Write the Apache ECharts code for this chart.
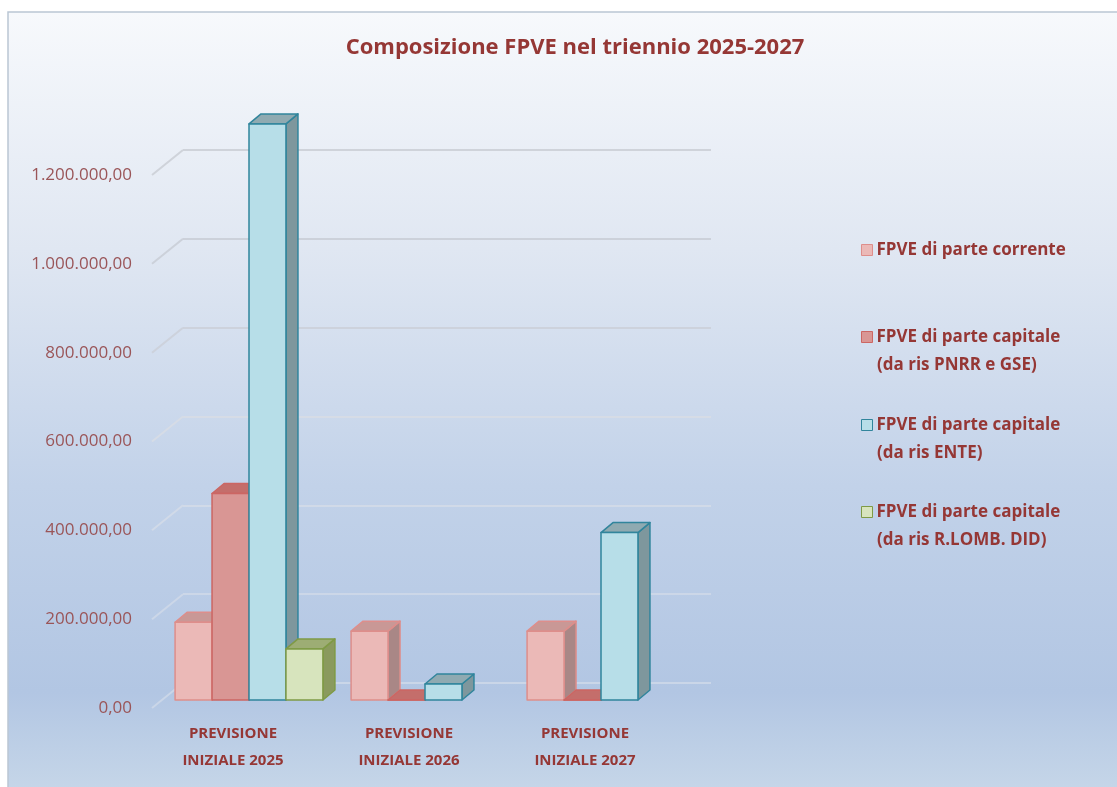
<!DOCTYPE html>
<html>
<head>
    <meta charset="utf-8">
    <title>Composizione FPVE</title>
    <script src="https://cdn.jsdelivr.net/npm/echarts@6/dist/echarts.min.js"></script>
    <style>
        html, body { margin: 0; padding: 0; background: #fff; }
        #chart { width: 1117px; height: 787px; }
    </style>
</head>
<body>
<div id="chart"></div>
<script>
// dati
var categories = ['PREVISIONE\nINIZIALE 2025', 'PREVISIONE\nINIZIALE 2026', 'PREVISIONE\nINIZIALE 2027'];
var seriesNames = [
    'FPVE di parte corrente',
    'FPVE di parte capitale\n(da ris PNRR e GSE)',
    'FPVE di parte capitale\n(da ris ENTE)',
    'FPVE di parte capitale\n(da ris R.LOMB. DID)'
];
var corrente = [175000, 155000, 155000];
var pnrr = [465000, 0, 0];
var ente = [1297000, 36000, 377000];
var rlomb = [115000, null, null];
var yTicks = [0, 200000, 400000, 600000, 800000, 1000000, 1200000];

// colori: fronte, sopra, lato, bordo
var palette = [
    { front: '#EBB9B7', top: '#C99896', side: '#A98786', border: '#DE8E8B' },
    { front: '#D99694', top: '#C46E6B', side: '#B0706E', border: '#CC6663' },
    { front: '#B7DEE8', top: '#8FAAB1', side: '#7E979D', border: '#31859C' },
    { front: '#D7E4BD', top: '#9DAD74', side: '#8A9A5E', border: '#7F9A45' }
];
// griglia dal basso verso l'alto
var gridColors = ['#CAD6E8', '#CCD7E8', '#D1DAE8', '#D6DCE6', '#CDD2DC', '#CCD1DA', '#CFD3DA'];
var legendY = [250, 337, 425, 512];
var textColor = '#953735';

var chart = echarts.init(document.getElementById('chart'));

function formatIt(v) {
    var s = String(Math.round(v)).replace(/\B(?=(\d{3})+(?!\d))/g, '.');
    return s + ',00';
}

var DX = 12, DY = -10;     // profondità barre
var OFFX = 9, OFFY = -8;   // piano delle barre rispetto al piano frontale

function makeBarSeries(idx, values) {
    return {
        name: seriesNames[idx],
        type: 'custom',
        xAxisIndex: 0,
        yAxisIndex: 0,
        clip: false,
        itemStyle: { color: palette[idx].front, borderColor: palette[idx].border },
        data: values.map(function (v, i) { return [i, v]; }),
        renderItem: function (params, api) {
            var v = api.value(1);
            if (v === null || isNaN(v)) return;
            var c = palette[idx];
            var base = api.coord([api.value(0), 0]);
            var topP = api.coord([api.value(0), v]);
            var band = api.size([1, 0])[0];
            var w = band * 0.84 / 4;
            var x0 = base[0] - 2 * w + idx * w + OFFX;
            var yb = base[1] + OFFY;
            var yt = topP[1] + OFFY;
            var ls = { stroke: c.border, lineWidth: 1.5, lineJoin: 'round' };
            return {
                type: 'group',
                children: [
                    {
                        type: 'polygon',
                        shape: { points: [[x0 + w, yt], [x0 + w + DX, yt + DY], [x0 + w + DX, yb + DY], [x0 + w, yb]] },
                        style: Object.assign({ fill: c.side }, ls)
                    },
                    {
                        type: 'polygon',
                        shape: { points: [[x0, yt], [x0 + DX, yt + DY], [x0 + w + DX, yt + DY], [x0 + w, yt]] },
                        style: Object.assign({ fill: c.top }, ls)
                    },
                    {
                        type: 'rect',
                        shape: { x: x0, y: yt, width: w, height: yb - yt },
                        style: Object.assign({ fill: c.front }, ls)
                    }
                ]
            };
        }
    };
}

var legends = seriesNames.map(function (n, i) {
    return {
        data: [{ name: n, icon: 'rect', itemStyle: { color: palette[i].front, borderColor: palette[i].border, borderWidth: 1 } }],
        left: 861,
        top: legendY[i] - 11,
        padding: 0,
        itemWidth: 11,
        itemHeight: 11,
        itemGap: 0,
        selectedMode: false,
        formatter: function (name) { return name.split('\n')[0]; },
        textStyle: { color: textColor, fontWeight: 'bold', fontSize: 17, lineHeight: 22, fontFamily: 'Open Sans', padding: [0, 0, 0, -1] }
    };
});

var secondLines = [];
seriesNames.forEach(function (n, i) {
    var parts = n.split('\n');
    if (parts.length > 1) {
        secondLines.push({
            type: 'text',
            left: 877,
            top: legendY[i] + 28 - 11,
            style: { text: parts[1], fill: textColor, font: 'bold 17px "Open Sans"', lineHeight: 22 }
        });
    }
});

var option = {
    backgroundColor: '#ffffff',
    animation: false,
    title: {
        text: 'Composizione FPVE nel triennio 2025-2027',
        left: 570,
        top: 32,
        textAlign: 'center',
        textStyle: { color: textColor, fontSize: 22, fontWeight: 'bold', fontFamily: 'Open Sans' }
    },
    legend: legends,
    graphic: [
        {
            type: 'rect',
            z: -10,
            shape: { x: 8, y: 12, width: 1120, height: 790 },
            style: {
                stroke: '#BAC6D4',
                lineWidth: 1.5,
                fill: {
                    type: 'linear', x: 0, y: 0, x2: 0, y2: 1,
                    colorStops: [
                        { offset: 0, color: '#F7F9FC' },
                        { offset: 0.3, color: '#E0E7F2' },
                        { offset: 0.6, color: '#C2D2E9' },
                        { offset: 0.86, color: '#B2C6E3' },
                        { offset: 1, color: '#C8D8E9' }
                    ]
                }
            },
            silent: true
        }
    ].concat(secondLines),
    grid: [
        { left: 152, right: 437, top: 175, bottom: 79 },
        { left: 183, right: 406, top: 150, bottom: 104 }
    ],
    xAxis: [
        {
            type: 'category',
            gridIndex: 0,
            data: categories,
            axisLine: { show: false },
            axisTick: { show: false },
            axisLabel: {
                color: textColor, fontWeight: 'bold', fontSize: 15, fontFamily: 'Open Sans',
                lineHeight: 27, margin: 12, padding: [0, 14, 0, 0]
            }
        },
        { type: 'category', gridIndex: 1, data: categories, show: false }
    ],
    yAxis: [
        {
            type: 'value',
            gridIndex: 0,
            min: 0, max: 1200000, interval: 200000,
            axisLine: { show: false },
            axisTick: { show: false },
            splitLine: { show: false },
            axisLabel: {
                color: '#9A5558', fontSize: 17, fontFamily: 'Open Sans', margin: 20,
                formatter: formatIt
            }
        },
        {
            type: 'value',
            gridIndex: 1,
            min: 0, max: 1200000, interval: 200000,
            axisLine: { show: false },
            axisTick: { show: false },
            axisLabel: { show: false },
            splitLine: { show: true, lineStyle: { color: gridColors, width: 2 } }
        }
    ],
    series: [
        {
            type: 'custom',
            xAxisIndex: 0,
            yAxisIndex: 0,
            silent: true,
            clip: false,
            z: 1,
            data: yTicks.map(function (t) { return [0, t]; }),
            renderItem: function (params, api) {
                var p = api.coord([0, api.value(1)]);
                var x = params.coordSys.x;
                return {
                    type: 'line',
                    shape: { x1: x, y1: p[1], x2: x + 31, y2: p[1] - 25 },
                    style: { stroke: gridColors[params.dataIndex], lineWidth: 2 }
                };
            }
        },
        makeBarSeries(0, corrente),
        makeBarSeries(1, pnrr),
        makeBarSeries(2, ente),
        makeBarSeries(3, rlomb)
    ]
};

chart.setOption(option);
</script>
</body>
</html>
